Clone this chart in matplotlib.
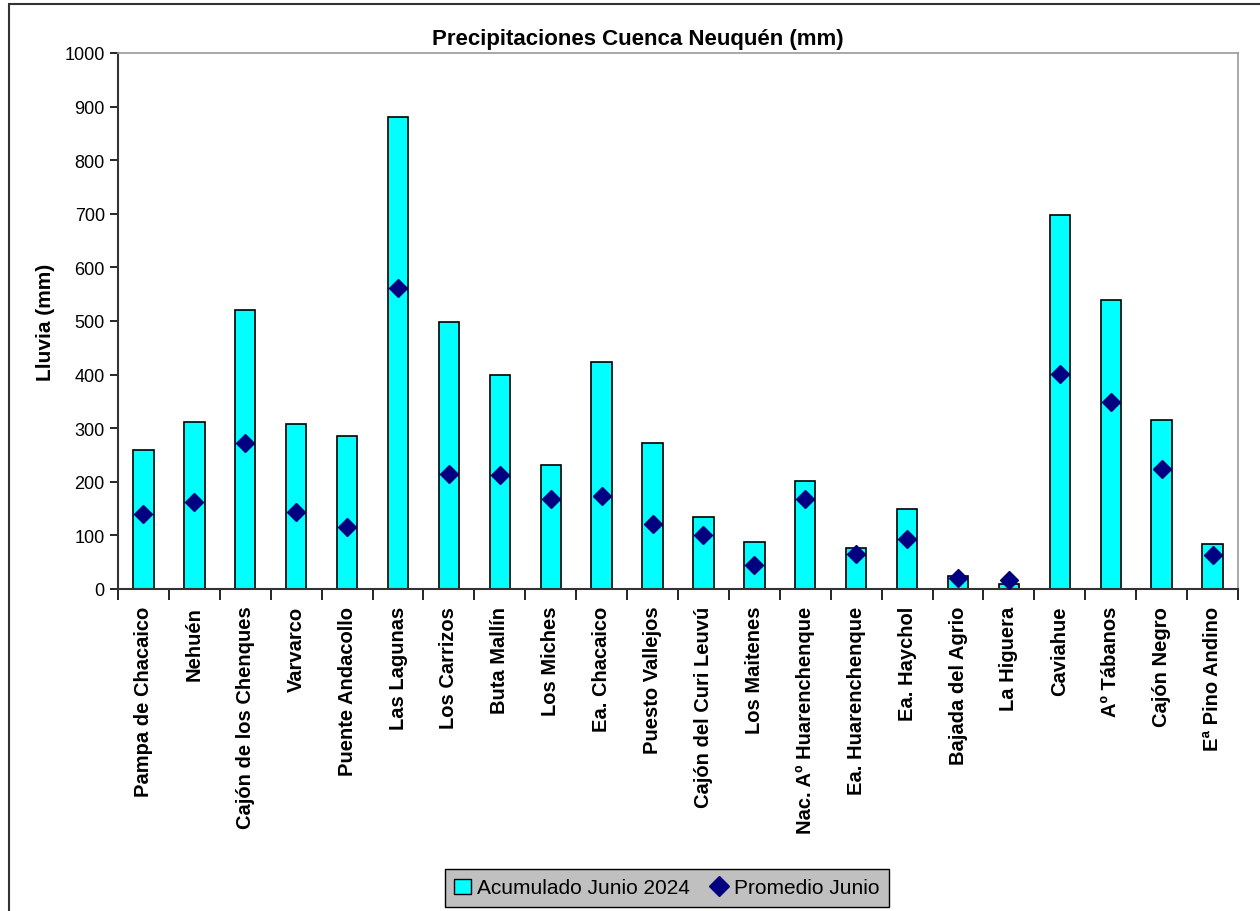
import matplotlib.pyplot as plt
import numpy as np
from matplotlib.patches import Rectangle, Patch
from matplotlib.lines import Line2D

plt.rcParams['font.family'] = ['Liberation Sans', 'DejaVu Sans']

estaciones = ['Pampa de Chacaico', 'Nehuén', 'Cajón de los Chenques', 'Varvarco',
              'Puente Andacollo', 'Las Lagunas', 'Los Carrizos', 'Buta Mallín',
              'Los Miches', 'Ea. Chacaico', 'Puesto Vallejos', 'Cajón del Curi Leuvú',
              'Los Maitenes', 'Nac. Aº Huarenchenque', 'Ea. Huarenchenque', 'Ea. Haychol',
              'Bajada del Agrio', 'La Higuera', 'Caviahue', 'Aº Tábanos', 'Cajón Negro',
              'Eª Pino Andino']
acumulado = [260, 312, 520, 307, 285, 880, 498, 400, 231, 423, 273, 135,
             87, 201, 76, 149, 24, 10, 697, 539, 315, 84]
promedio = [140, 162, 273, 143, 115, 561, 215, 212, 167, 174, 121, 101,
            44, 168, 66, 93, 20, 16, 401, 348, 224, 63]

fig = plt.figure(figsize=(12.6, 9.12), dpi=100)
ax = fig.add_axes([118/1260, 1 - 590/912, 1120/1260, 536/912])

x = np.arange(len(estaciones))
ax.bar(x, acumulado, width=0.4, color='#00ffff', edgecolor='black', linewidth=1.2, zorder=2)
ax.plot(x, promedio, linestyle='none', marker='D', markersize=9, color='#000080', zorder=3)

ax.set_xlim(-0.5, len(estaciones) - 0.5)
ax.set_ylim(0, 1000)
ax.set_yticks(np.arange(0, 1001, 100))
ax.tick_params(axis='y', labelsize=13, direction='out', length=6, width=1.2)
ax.set_xticks(x)
ax.set_xticklabels(estaciones, rotation=90, fontsize=14.5, fontweight='bold')
ax.set_xticks(np.arange(-0.5, len(estaciones)), minor=True)
ax.tick_params(axis='x', which='major', length=0, pad=12)
ax.tick_params(axis='x', which='minor', length=8, width=1.2, direction='out')

for s in ['left', 'bottom']:
    ax.spines[s].set_color('#333333')
    ax.spines[s].set_linewidth(1.5)
for s in ['top', 'right']:
    ax.spines[s].set_color('#999999')
    ax.spines[s].set_linewidth(1.2)

ax.set_ylabel('Lluvia (mm)', fontsize=15, fontweight='bold', labelpad=7)
fig.text(638/1260, 1 - 40/912, 'Precipitaciones Cuenca Neuquén (mm)', fontsize=16,
         fontweight='bold', ha='center', va='center')

handles = [Patch(facecolor='#00ffff', edgecolor='black', linewidth=1),
           Line2D([], [], linestyle='none', marker='D', markersize=10, color='#000080')]
leg = fig.legend(handles, ['Acumulado Junio 2024', 'Promedio Junio'], ncol=2,
                 loc='center', bbox_to_anchor=(667/1260, 1 - 889/912),
                 fontsize=15, frameon=True, fancybox=False, handlelength=0.8,
                 handletextpad=0.3, columnspacing=1.0, borderpad=0.45)
leg.get_frame().set_facecolor('#c0c0c0')
leg.get_frame().set_edgecolor('black')
leg.get_frame().set_alpha(1)

fig.patches.append(Rectangle((9/1260, -0.05), 1.2, 1 - 5/912 + 0.05, transform=fig.transFigure,
                             fill=False, edgecolor='#333333', linewidth=1.5))

fig.savefig('out.png', dpi=100)
